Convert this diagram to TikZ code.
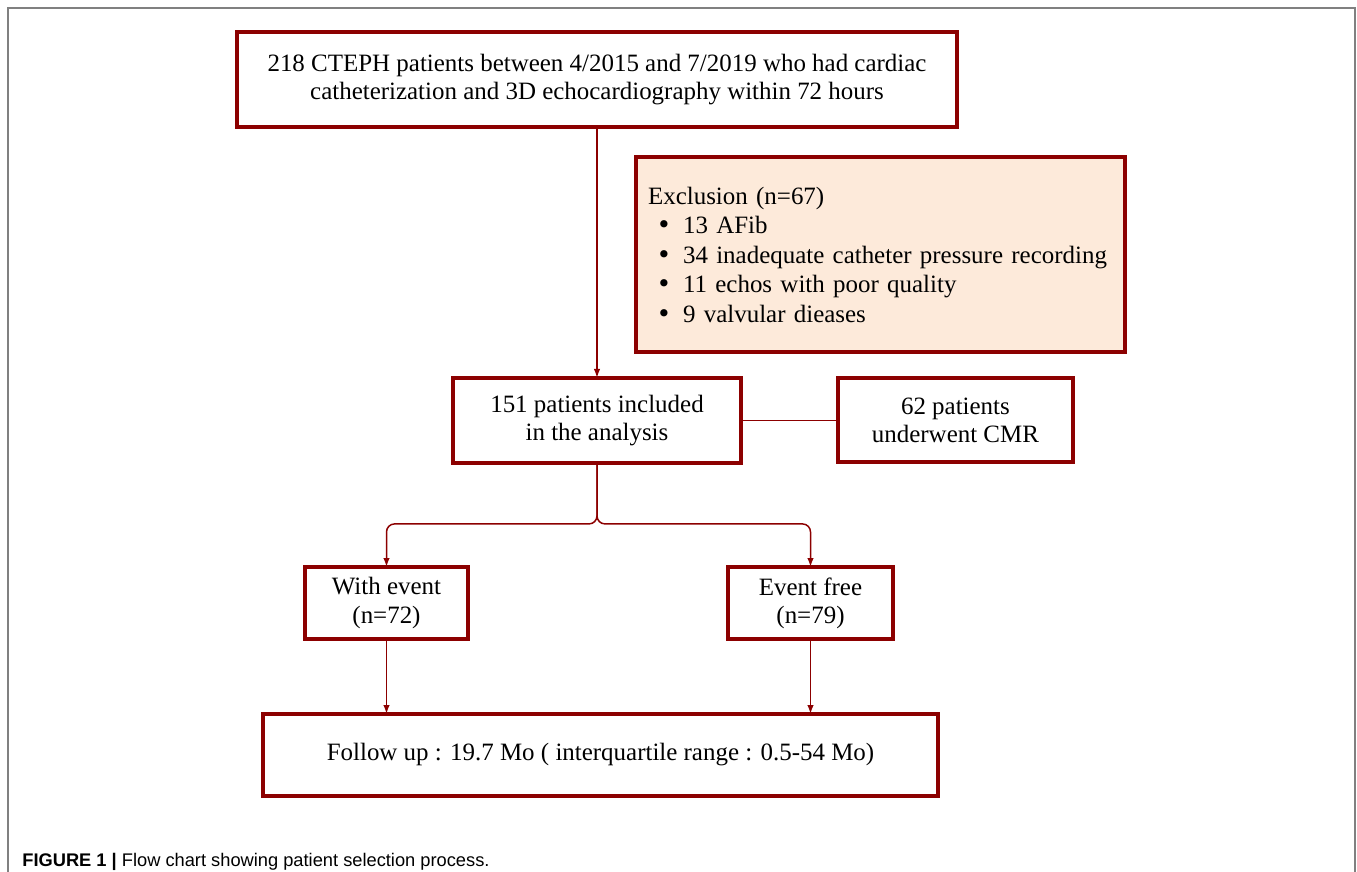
\documentclass[tikz,border=0pt]{standalone}
\usepackage{fontspec}
\setmainfont{Liberation Serif}
\newfontfamily\capfont{Liberation Sans}
\newfontfamily\bulfont{DejaVu Sans}
\usetikzlibrary{arrows.meta,positioning}
\definecolor{boxred}{RGB}{140,0,0}
\definecolor{exclfill}{RGB}{253,234,218}
\definecolor{framegray}{RGB}{128,128,128}
\newcommand{\exitem}{\makebox[0.7cm][l]{\hspace{0.17cm}{\bulfont •}}}

\begin{document}
\begin{tikzpicture}[x=0.02cm, y=-0.02cm, >={Latex[length=0.18cm,width=0.13cm]}, font=\fontsize{14.2}{16}\selectfont, box/.style={draw=boxred, line width=0.08cm, fill=white, align=center, inner sep=0pt, outer sep=0pt}, link/.style={draw=boxred, line width=0.03cm}]
\useasboundingbox (0,0) rectangle (1357,872);
\draw[framegray, line width=0.03cm] (8,872) -- (8,8) -- (1355,8) -- (1355,872);
\node[box, minimum width=14.4cm, minimum height=1.9cm] (pop) at (597,79.5) {218 CTEPH patients between 4/2015 and 7/2019 who had cardiac\\catheterization and 3D echocardiography within 72 hours};
\node[box, fill=exclfill, minimum width=9.78cm, minimum height=3.9cm, text width=9.3cm, align=left, font=\fontsize{14.2}{16.8}\selectfont] (excl) at (880.5,254.5) {Exclusion (n=67)\\\exitem 13 AFib\\\exitem 34 inadequate catheter pressure recording\\\exitem 11 echos with poor quality\\\exitem 9 valvular dieases};
\node[box, minimum width=5.76cm, minimum height=1.7cm, below=5.02cm of pop] (incl) {151 patients included\\in the analysis};
\node[box, minimum width=4.7cm, minimum height=1.68cm, right=1.94cm of incl] (cmr) {62 patients\\underwent CMR};
\node[box, minimum width=3.26cm, minimum height=1.44cm] (event) at (386.5,603) {With event\\(n=72)};
\node[box, minimum width=3.3cm, minimum height=1.44cm] (free) at (810.5,603) {Event free\\(n=79)};
\node[box, minimum width=13.5cm, minimum height=1.64cm] (fup) at (600.5,755) {Follow up : 19.7 Mo ( interquartile range : 0.5-54 Mo)};
\path (incl.south) ++(0,61) coordinate (split);
\draw[link, ->] (pop) -- (incl);
\draw[link] (incl) -- (cmr);
\draw[link, ->, rounded corners=0.16cm] (incl.south) -- (split) -| (event.north);
\draw[link, ->, rounded corners=0.16cm] (incl.south) -- (split) -| (free.north);
\draw[link, ->] (event) -- (event |- fup.north);
\draw[link, ->] (free) -- (free |- fup.north);
\node[anchor=base west, inner sep=0pt, font=\capfont\fontsize{10.4}{12}\selectfont] (caption) at (22,866) {\textbf{FIGURE 1 |} Flow chart showing patient selection process.};
\end{tikzpicture}
\end{document}
